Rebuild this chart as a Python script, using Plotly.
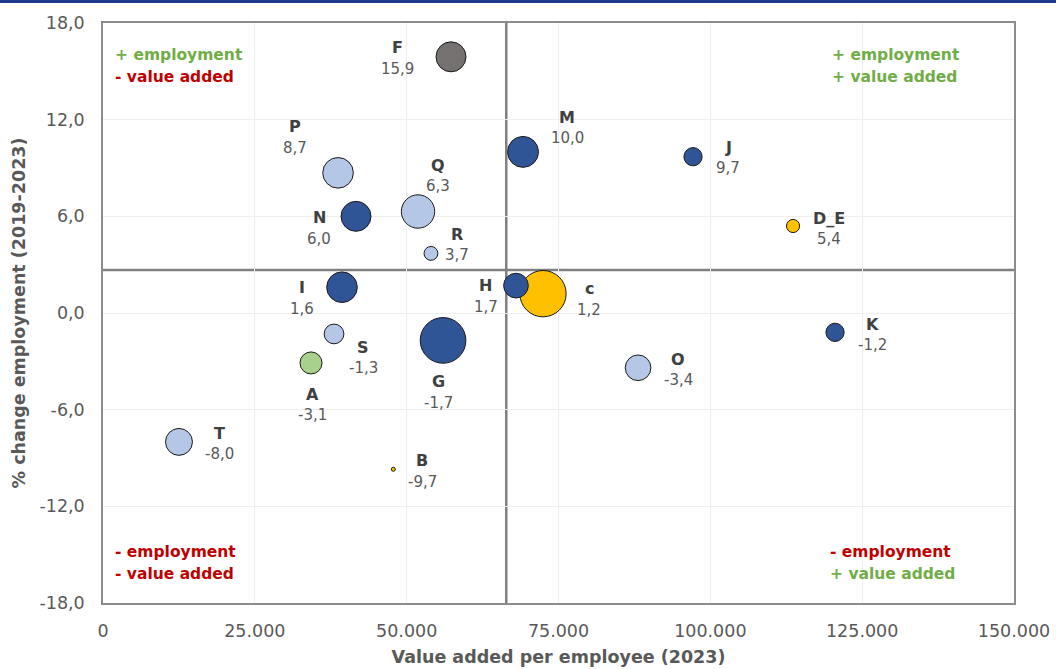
import numpy as np
import plotly.graph_objects as go

# Sectors (NACE sections), value added per employee 2023 and employment change 2019-2023
sectors = ["C", "G", "Q", "M", "N", "P", "I", "F", "T", "O", "H", "A", "S", "J", "K", "R", "D_E", "B"]
value_added = [72450, 55990, 51870, 69160, 41660, 38700, 39350, 57300, 12510, 88100, 68000, 34250, 38040, 97150, 120530, 54000, 113620, 47800]
emp_change = [1.2, -1.7, 6.3, 10.0, 6.0, 8.7, 1.6, 15.9, -8.0, -3.4, 1.7, -3.1, -1.3, 9.7, -1.2, 3.7, 5.4, -9.7]
bubble_weight = [22.4, 21.8, 11.8, 10.2, 9.6, 10.0, 10.0, 9.6, 7.8, 7.1, 6.6, 5.3, 4.3, 3.7, 3.7, 2.2, 2.0, 0.25]
group = ["industry", "market", "public", "market", "market", "public", "market", "construction", "public",
         "public", "market", "agri", "public", "market", "market", "public", "industry", "industry"]
display_name = {"C": "c"}

# Reference lines (averages)
avg_value_added = 66400
avg_emp_change = 2.67

x_ticks = [0, 25000, 50000, 75000, 100000, 125000, 150000]
x_tick_text = ["0", "25.000", "50.000", "75.000", "100.000", "125.000", "150.000"]
y_ticks = [-18, -12, -6, 0, 6, 12, 18]
y_tick_text = ["-18,0", "-12,0", "-6,0", "0,0", "6,0", "12,0", "18,0"]

group_colors = {
    "industry": "#FFC000",
    "market": "#2F5597",
    "public": "#B4C7E7",
    "construction": "#767171",
    "agri": "#A9D18E",
}

# label offsets (px): horizontal shift and vertical shift of the name/value pair midpoint
label_offset = {
    "C": (46, -5.5), "G": (-5, -52), "Q": (20, 36), "M": (44, 24), "N": (-37, -12),
    "P": (-43, 35.5), "I": (-40, -11), "F": (-54, -1.5), "T": (41, -2), "O": (40, -2),
    "H": (-30, -10.5), "A": (1, -42), "S": (29, -24), "J": (35, -1), "K": (37, -2.5),
    "R": (26, 8.5), "D_E": (36, -2.5), "B": (29, -2),
}

label_color = "#404040"
value_color = "#595959"
green = "#70AD47"
red = "#C00000"
font_main = "DejaVu Sans"

fig = go.Figure()

# draw bigger bubbles first so smaller ones stay visible
order = np.argsort(bubble_weight)[::-1]
for i in order:
    fig.add_trace(go.Scatter(
        x=[value_added[i]], y=[emp_change[i]], mode="markers",
        marker=dict(size=10 * np.sqrt(bubble_weight[i]) - 1, color=group_colors[group[i]],
                    line=dict(color="#1a1a1a", width=1), opacity=1),
        hoverinfo="text", text=[sectors[i]], showlegend=False,
    ))

annotations = []
for i, s in enumerate(sectors):
    dx, dy = label_offset[s]
    val = f"{emp_change[i]:.1f}".replace(".", ",")
    annotations.append(dict(
        x=value_added[i], y=emp_change[i], xref="x", yref="y",
        text=f"<b>{display_name.get(s, s)}</b>", showarrow=False,
        xshift=dx, yshift=dy + 10.5, font=dict(family=font_main, size=16, color=label_color),
    ))
    annotations.append(dict(
        x=value_added[i], y=emp_change[i], xref="x", yref="y",
        text=val, showarrow=False,
        xshift=dx, yshift=dy - 10.5, font=dict(family=font_main, size=15, color=value_color),
    ))

# quadrant captions: (paper x of left edge, paper y of first line centre, lines)
quadrants = [
    (0.011, 0.9448, [("+ employment", green), ("- value added", red)]),
    (0.7985, 0.9448, [("+ employment", green), ("+ value added", green)]),
    (0.011, 0.0880, [("- employment", red), ("- value added", red)]),
    (0.796, 0.0880, [("- employment", red), ("+ value added", green)]),
]
line_step = 22 / 580
for qx, qy, lines in quadrants:
    for k, (t, c) in enumerate(lines):
        annotations.append(dict(
            x=qx, y=qy - k * line_step, xref="paper", yref="paper", xanchor="left", yanchor="middle",
            text=t, showarrow=False, align="left",
            font=dict(family=font_main, size=15.5, weight="bold", color=c),
        ))

shapes = [
    dict(type="line", xref="x", yref="paper", x0=avg_value_added, x1=avg_value_added, y0=0, y1=1,
         line=dict(color="#808080", width=2.5), layer="below"),
    dict(type="line", xref="paper", yref="y", x0=0, x1=1, y0=avg_emp_change, y1=avg_emp_change,
         line=dict(color="#808080", width=2.5), layer="below"),
    # navy rule along the top edge
    dict(type="rect", xref="paper", yref="paper", x0=-0.2, x1=1.2, y0=1.0345, y1=1.05,
         fillcolor="#1F3A8A", line=dict(width=0)),
]

fig.update_layout(
    width=1056, height=669,
    margin=dict(l=103, r=42, t=23, b=66),
    paper_bgcolor="white", plot_bgcolor="white",
    annotations=annotations, shapes=shapes,
    xaxis=dict(
        range=[0, 150000], tickvals=x_ticks, ticktext=x_tick_text, automargin=False,
        showgrid=True, gridcolor="#EEEEEE", gridwidth=1, zeroline=False,
        showline=True, linecolor="#8C8C8C", linewidth=1.5, mirror=True,
        ticks="", ticklabelstandoff=11,
        tickfont=dict(family=font_main, size=17.5, color=value_color),
        title=dict(text="<b>Value added per employee (2023)</b>", standoff=11,
                   font=dict(family=font_main, size=17.5, color=value_color)),
    ),
    yaxis=dict(
        range=[-18, 18], tickvals=y_ticks, ticktext=y_tick_text, automargin=False,
        showgrid=True, gridcolor="#EEEEEE", gridwidth=1, zeroline=False,
        showline=True, linecolor="#8C8C8C", linewidth=1.5, mirror=True,
        ticks="", ticklabelstandoff=13,
        tickfont=dict(family=font_main, size=17.5, color=value_color),
        title=dict(text="<b>% change employment (2019-2023)</b>", standoff=9,
                   font=dict(family=font_main, size=17.5, color=value_color)),
    ),
    hovermode="closest",
)

fig.write_html("out.html")
